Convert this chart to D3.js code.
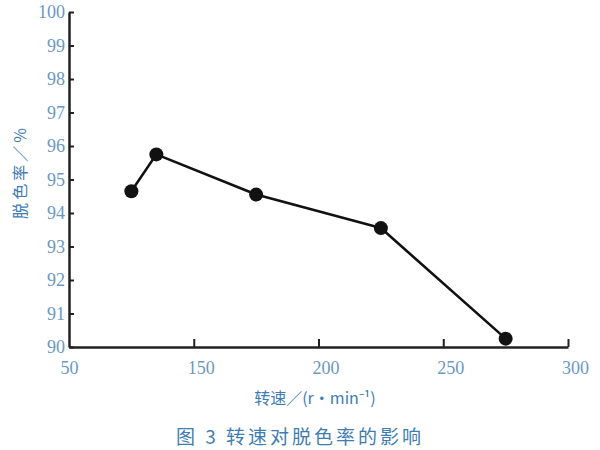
<!DOCTYPE html>
<html>
<head>
<meta charset="utf-8">
<script src="https://cdn.jsdelivr.net/npm/d3@7"></script>
<style>
  body { margin: 0; background: #fff; }
  svg { display: block; }
</style>
</head>
<body>
<div id="chart"></div>
<script>
// rotation speed (r/min) vs decolorization rate (%)
const speeds = [125, 135, 175, 225, 275];
const rates = [94.65, 95.75, 94.55, 93.55, 90.25];

const xTicks = [100, 150, 200, 250, 300];
const xTickLabels = ["50", "150", "200", "250", "300"];
const yTicks = [90, 91, 92, 93, 94, 95, 96, 97, 98, 99, 100];

const width = 600;
const height = 450;
const tickColor = "#6b98c4";
const titleColor = "#3f7cb3";

const svg = d3.select("#chart").append("svg")
    .attr("width", width)
    .attr("height", height);

const x = d3.scaleLinear().domain([100, 300]).range([69, 568]);
const y = d3.scaleLinear().domain([90, 100]).range([347, 12]);

const xAxis = svg.append("g")
    .attr("transform", `translate(0,${y(90)})`)
    .call(d3.axisBottom(x)
        .tickValues(xTicks)
        .tickFormat((d, i) => xTickLabels[i])
        .tickSizeInner(-8)
        .tickSizeOuter(0)
        .tickPadding(14));

const yAxis = svg.append("g")
    .attr("transform", `translate(${x(100)},0)`)
    .call(d3.axisLeft(y)
        .tickValues(yTicks)
        .tickSizeInner(-5)
        .tickSizeOuter(0)
        .tickPadding(4));

[xAxis, yAxis].forEach(g => {
    g.select(".domain").attr("stroke", "#222").attr("stroke-width", 2.5);
    g.selectAll(".tick line").attr("stroke", "#222").attr("stroke-width", 2);
    g.selectAll(".tick text")
        .attr("fill", tickColor)
        .style("font-family", "'Liberation Serif', 'DejaVu Serif', serif")
        .style("font-size", "18px");
});
xAxis.selectAll(".tick text").attr("dx", (d, i) => i === 0 ? 0 : 7);
xAxis.selectAll(".tick").filter(d => d === 100).select("line").remove();

const points = speeds.map((s, i) => ({ x: s, y: rates[i] }));

svg.append("path")
    .datum(points)
    .attr("fill", "none")
    .attr("stroke", "#111")
    .attr("stroke-width", 2.6)
    .attr("stroke-linejoin", "round")
    .attr("d", d3.line().x(d => x(d.x)).y(d => y(d.y)));

svg.selectAll(".dot")
    .data(points)
    .enter().append("circle")
    .attr("class", "dot")
    .attr("cx", d => x(d.x))
    .attr("cy", d => y(d.y))
    .attr("r", 7)
    .attr("fill", "#111");

svg.append("text")
    .attr("transform", `translate(26,172) rotate(-90)`)
    .attr("text-anchor", "middle")
    .attr("fill", titleColor)
    .style("font-family", "'Noto Sans CJK SC', sans-serif")
    .style("font-size", "16px")
    .style("letter-spacing", "3px")
    .text("脱色率／%");

svg.append("text")
    .attr("x", 315)
    .attr("y", 404)
    .attr("text-anchor", "middle")
    .attr("fill", titleColor)
    .style("font-family", "'Noto Sans CJK SC', sans-serif")
    .style("font-size", "16px")
    .text("转速／(r·min⁻¹)");

svg.append("text")
    .attr("x", 300)
    .attr("y", 444)
    .attr("text-anchor", "middle")
    .attr("fill", titleColor)
    .style("font-family", "'Noto Sans CJK SC', sans-serif")
    .style("font-size", "19px")
    .style("letter-spacing", "3px")
    .text("图 3 转速对脱色率的影响");
</script>
</body>
</html>
